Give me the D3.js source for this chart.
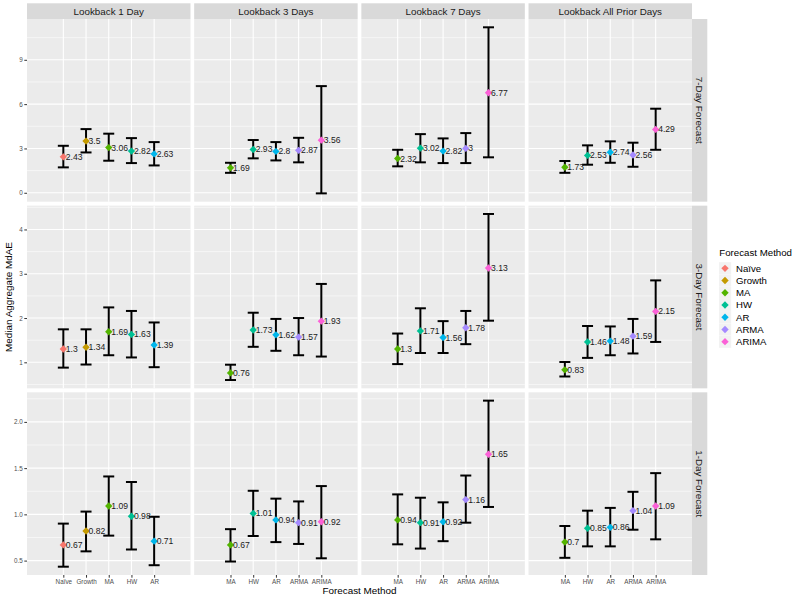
<!DOCTYPE html>
<html><head><meta charset="utf-8">
<script src="https://cdn.jsdelivr.net/npm/d3@7"></script>
<style>body{margin:0;background:#fff}svg{display:block;font-family:"Liberation Sans",Arial,sans-serif}</style>
</head><body><svg id="c" width="800" height="600"></svg>
<script>
const rowLabels = ["7-Day Forecast", "3-Day Forecast", "1-Day Forecast"];
const colLabels = ["Lookback 1 Day", "Lookback 3 Days", "Lookback 7 Days", "Lookback All Prior Days"];
const methods = ["Naïve", "Growth", "MA", "HW", "AR", "ARMA", "ARIMA"];
const colors = ["#F8766D", "#C49A00", "#53B400", "#00C094", "#00B6EB", "#A58AFF", "#FB61D7"];
const colMethods = [
  ["Naïve", "Growth", "MA", "HW", "AR"],
  ["MA", "HW", "AR", "ARMA", "ARIMA"],
  ["MA", "HW", "AR", "ARMA", "ARIMA"],
  ["MA", "HW", "AR", "ARMA", "ARIMA"]
];
const yTicks = [[0, 3, 6, 9], [1, 2, 3, 4], [0.5, 1.0, 1.5, 2.0]];

// 7-Day Forecast
const med7 = [[2.43, 3.5, 3.06, 2.82, 2.63], [1.69, 2.93, 2.8, 2.87, 3.56], [2.32, 3.02, 2.82, 3, 6.77], [1.73, 2.53, 2.74, 2.56, 4.29]];
const low7 = [[1.72, 2.73, 2.17, 2.01, 1.85], [1.35, 2.33, 2.19, 2.06, -0.04], [1.79, 2.06, 2.01, 2.01, 2.40], [1.35, 1.90, 2.03, 1.76, 2.91]];
const up7  = [[3.18, 4.31, 4.0, 3.70, 3.43], [2.03, 3.57, 3.43, 3.72, 7.22], [2.91, 3.97, 3.68, 4.04, 11.2], [2.15, 3.21, 3.48, 3.39, 5.69]];
// 3-Day Forecast
const med3 = [[1.3, 1.34, 1.69, 1.63, 1.39], [0.76, 1.73, 1.62, 1.57, 1.93], [1.3, 1.71, 1.56, 1.78, 3.13], [0.83, 1.46, 1.48, 1.59, 2.15]];
const low3 = [[0.88, 0.95, 1.16, 1.11, 0.89], [0.60, 1.35, 1.26, 1.16, 1.13], [0.96, 1.21, 1.21, 1.41, 1.94], [0.68, 1.10, 1.16, 1.20, 1.46]];
const up3  = [[1.745, 1.745, 2.24, 2.16, 1.90], [0.946, 2.12, 1.98, 2.0, 2.77], [1.65, 2.22, 1.93, 2.16, 4.35], [1.007, 1.82, 1.81, 1.98, 2.85]];
// 1-Day Forecast
const med1 = [[0.67, 0.82, 1.09, 0.98, 0.71], [0.67, 1.01, 0.94, 0.91, 0.92], [0.94, 0.91, 0.92, 1.16, 1.65], [0.7, 0.85, 0.86, 1.04, 1.09]];
const low1 = [[0.434, 0.60, 0.77, 0.62, 0.45], [0.49, 0.766, 0.70, 0.68, 0.525], [0.676, 0.63, 0.71, 0.91, 1.08], [0.53, 0.654, 0.654, 0.834, 0.73]];
const up1  = [[0.90, 1.03, 1.41, 1.35, 0.974], [0.84, 1.255, 1.17, 1.14, 1.306], [1.216, 1.18, 1.13, 1.42, 2.23], [0.874, 1.04, 1.07, 1.244, 1.446]];

const meds = [med7, med3, med1], lows = [low7, low3, low1], ups = [up7, up3, up1];

const svg = d3.select("#c");
svg.append("rect").attr("width", 800).attr("height", 600).attr("fill", "#fff");

const L = 27, R = 692, T = 19, B = 575, gapX = 3.7, gapY = 4;
const pw = (R - L - 3 * gapX) / 4, ph = (B - T - 2 * gapY) / 3;
const color = d3.scaleOrdinal(methods, colors);
const diamond = d3.symbol().type(d3.symbolSquare).size(27);

for (let r = 0; r < 3; r++) {
  const lo = d3.min(lows[r].flat()), hi = d3.max(ups[r].flat());
  const pad = (hi - lo) * 0.05;
  const y = d3.scaleLinear([lo - pad, hi + pad], [ph, 0]);
  const ticks = yTicks[r];
  const step = ticks[1] - ticks[0];
  const minor = d3.range(ticks[0] - step / 2, hi + pad + step, step).filter(v => v > lo - pad && v < hi + pad);
  for (let c = 0; c < 4; c++) {
    const px = L + c * (pw + gapX), py = T + r * (ph + gapY);
    const g = svg.append("g").attr("transform", `translate(${px},${py})`);
    const x = d3.scaleLinear([-1.6, 5.6], [0, pw]);
    g.append("rect").attr("width", pw).attr("height", ph).attr("fill", "#EBEBEB");
    g.selectAll(".mn").data(minor).join("line").attr("x1", 0).attr("x2", pw)
      .attr("y1", d => y(d)).attr("y2", d => y(d)).attr("stroke", "#fff").attr("stroke-width", 0.55);
    g.selectAll(".mj").data(ticks).join("line").attr("x1", 0).attr("x2", pw)
      .attr("y1", d => y(d)).attr("y2", d => y(d)).attr("stroke", "#fff").attr("stroke-width", 1.1);
    const cats = colMethods[c];
    g.selectAll(".vg").data(cats).join("line").attr("x1", (d, i) => x(i)).attr("x2", (d, i) => x(i))
      .attr("y1", 0).attr("y2", ph).attr("stroke", "#fff").attr("stroke-width", 1.1);
    const data = cats.map((m, i) => ({ m, i, v: meds[r][c][i], lo: lows[r][c][i], hi: ups[r][c][i] }));
    const eb = g.selectAll(".eb").data(data).join("g");
    eb.append("line").attr("x1", d => x(d.i)).attr("x2", d => x(d.i)).attr("y1", d => y(d.lo)).attr("y2", d => y(d.hi))
      .attr("stroke", "#000").attr("stroke-width", 2);
    eb.append("line").attr("x1", d => x(d.i) - 5.5).attr("x2", d => x(d.i) + 5.5).attr("y1", d => y(d.lo)).attr("y2", d => y(d.lo))
      .attr("stroke", "#000").attr("stroke-width", 2);
    eb.append("line").attr("x1", d => x(d.i) - 5.5).attr("x2", d => x(d.i) + 5.5).attr("y1", d => y(d.hi)).attr("y2", d => y(d.hi))
      .attr("stroke", "#000").attr("stroke-width", 2);
    g.selectAll(".pt").data(data).join("path").attr("d", diamond)
      .attr("transform", d => `translate(${x(d.i)},${y(d.v)}) rotate(45)`).attr("fill", d => color(d.m));
    g.selectAll(".lb").data(data).join("text").attr("x", d => x(d.i) + 2.5).attr("y", d => y(d.v))
      .attr("dy", "0.35em").attr("font-size", 8.6).attr("fill", "#1a1a1a").text(d => String(d.v));
    if (c === 0) {
      const ax = svg.append("g").attr("transform", `translate(${px},${py})`)
        .call(d3.axisLeft(y).tickValues(ticks).tickSize(2.7).tickPadding(1.5).tickFormat(r === 2 ? d3.format(".1f") : d3.format("d")));
      ax.select(".domain").remove();
      ax.selectAll("line").attr("stroke", "#333");
      ax.selectAll("text").attr("font-size", 6.3).attr("fill", "#4D4D4D").attr("font-family", "Liberation Sans, Arial, sans-serif");
    }
    if (r === 2) {
      const ax = svg.append("g").attr("transform", `translate(${px},${py + ph})`)
        .call(d3.axisBottom(x).tickValues(d3.range(cats.length)).tickSize(2.7).tickPadding(1.5).tickFormat(i => cats[i]));
      ax.select(".domain").remove();
      ax.selectAll("line").attr("stroke", "#333");
      ax.selectAll("text").attr("font-size", 6.3).attr("fill", "#4D4D4D").attr("font-family", "Liberation Sans, Arial, sans-serif");
    }
    if (r === 0) {
      svg.append("rect").attr("x", px).attr("y", 3.3).attr("width", pw).attr("height", T - 3.3).attr("fill", "#D9D9D9");
      svg.append("text").attr("x", px + pw / 2).attr("y", (3.3 + T) / 2).attr("dy", "0.35em").attr("text-anchor", "middle")
        .attr("font-size", 9.8).attr("fill", "#1A1A1A").text(colLabels[c]);
    }
    if (c === 3) {
      svg.append("rect").attr("x", R).attr("y", py).attr("width", 15.3).attr("height", ph).attr("fill", "#D9D9D9");
      svg.append("text").attr("transform", `translate(${R + 7.6},${py + ph / 2}) rotate(90)`).attr("dy", "0.35em")
        .attr("text-anchor", "middle").attr("font-size", 9.8).attr("fill", "#1A1A1A").text(rowLabels[r]);
    }
  }
}

svg.append("text").attr("transform", `translate(8.5,${(T + B) / 2}) rotate(-90)`).attr("dy", "0.35em")
  .attr("text-anchor", "middle").attr("font-size", 9.9).attr("fill", "#000").text("Median Aggregate MdAE");
svg.append("text").attr("x", (L + R) / 2).attr("y", 591).attr("dy", "0.35em")
  .attr("text-anchor", "middle").attr("font-size", 9.9).attr("fill", "#000").text("Forecast Method");

// Legend
const lg = svg.append("g");
lg.append("text").attr("x", 719.3).attr("y", 252.7).attr("dy", "0.35em").attr("font-size", 9.7).attr("fill", "#000").text("Forecast Method");
const ly = d3.scalePoint(methods, [268.3, 341.7]);
const li = lg.selectAll(".li").data(methods).join("g");
li.append("rect").attr("x", 719).attr("y", d => ly(d) - 6.1).attr("width", 12.2).attr("height", 12.2).attr("fill", "#F2F2F2");
li.append("path").attr("d", diamond).attr("transform", d => `translate(725,${ly(d)}) rotate(45)`).attr("fill", d => color(d));
li.append("text").attr("x", 736).attr("y", d => ly(d)).attr("dy", "0.35em").attr("font-size", 9.6).attr("fill", "#000").text(d => d);
</script></body></html>
